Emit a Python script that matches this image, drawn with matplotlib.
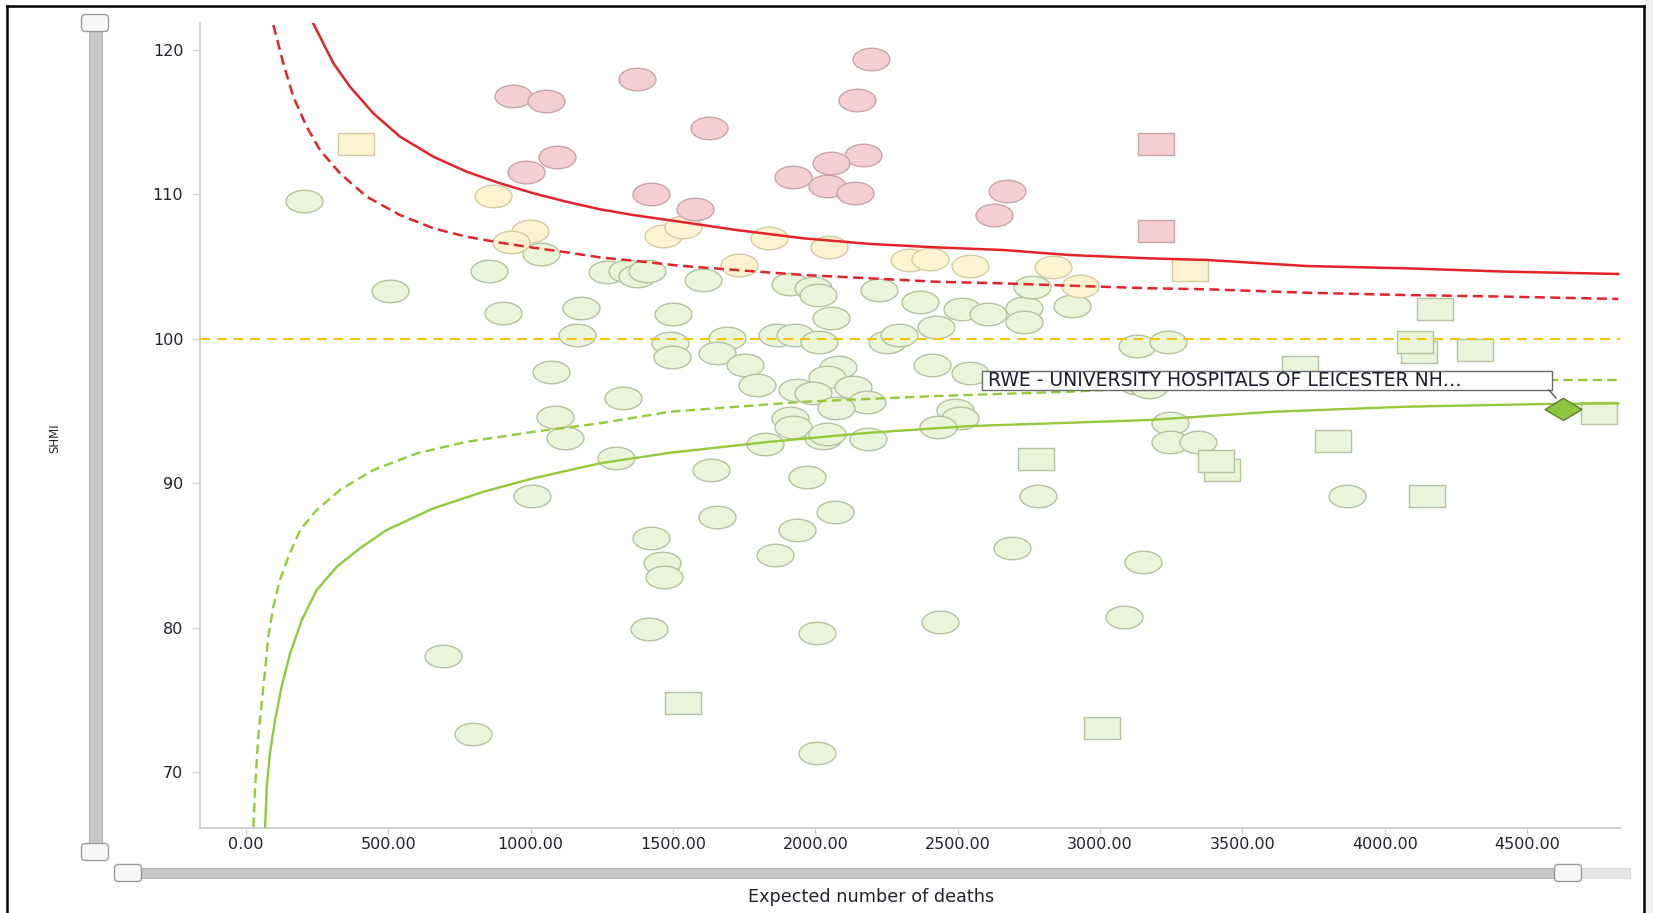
import numpy as np
import matplotlib.pyplot as plt
from matplotlib.path import Path
from matplotlib.patches import Rectangle, FancyBboxPatch

# SHMI funnel plot: expected deaths vs SHMI, one mark per trust

# trusts above the upper 99.8% limit
pink_circle_e = [939, 1053, 1374, 1094, 982, 1424, 2194, 2145, 1627, 2168, 2053,
                 1920, 2039, 2138, 2672, 2628, 1578]
pink_circle_s = [116.8, 116.45, 118.0, 112.6, 111.57, 110.05, 119.36, 116.54, 114.58,
                 112.7, 112.2, 111.18, 110.58, 110.07, 110.24, 108.6, 108.97]
pink_square_e = [3195, 3195]
pink_square_s = [113.5, 107.5]

# between the 95% and 99.8% upper limits
yellow_circle_e = [869, 998, 931, 1463, 1536, 1837, 2046, 1732, 2327, 2403, 2543, 2834, 2929]
yellow_circle_s = [109.9, 107.49, 106.73, 107.14, 107.76, 106.96, 106.38, 105.1, 105.46,
                   105.53, 105.04, 104.95, 103.66]
yellow_square_e = [386, 3316]
yellow_square_s = [113.47, 104.76]

# within limits
green_circle_e = [204, 1035, 855, 1267, 1339, 1372, 1407, 506, 904, 1178, 1501, 1163, 1489,
                  1496, 1072, 1324, 1087, 1606, 1910, 1993, 2010, 2223, 2368, 2516, 2607,
                  2734, 2733, 2762, 2902, 2055, 2424, 1688, 1864, 1928, 2013, 2250, 2295,
                  3128, 3238, 1653, 1753, 1796, 2081, 2040, 2131, 2408, 2543, 1936, 1993,
                  2180, 2074, 1911, 1920, 2490, 2508, 2432, 3128, 3172, 3246, 3246, 3345,
                  1823, 2028, 2040, 2186, 1633, 1969, 1653, 2069, 1934, 1858, 1122, 1298,
                  1003, 1423, 1462, 1468, 1417, 693, 798, 2783, 2692, 3152, 2438, 2004,
                  3084, 2004, 3868]
green_circle_s = [109.54, 105.9, 104.7, 104.6, 104.7, 104.37, 104.72, 103.31, 101.76, 102.1,
                  101.7, 100.24, 99.73, 98.76, 97.68, 95.88, 94.56, 104.07, 103.8, 103.5,
                  103.05, 103.38, 102.53, 102.04, 101.7, 102.11, 101.18, 103.6, 102.29,
                  101.42, 100.8, 100.03, 100.26, 100.26, 99.8, 99.8, 100.26, 99.5, 99.8,
                  99.0, 98.18, 96.8, 98.07, 97.38, 96.68, 98.19, 97.61, 96.44, 96.27,
                  95.64, 95.18, 94.49, 93.9, 95.07, 94.49, 93.9, 96.96, 96.66, 94.2, 92.87,
                  92.87, 92.71, 93.1, 93.4, 93.06, 90.91, 90.4, 87.68, 88.03, 86.76, 85.03,
                  93.1, 91.77, 89.11, 86.22, 84.5, 83.5, 79.88, 78.03, 72.63, 89.11, 85.53,
                  84.56, 80.41, 79.65, 80.76, 71.34, 89.11]
green_square_e = [2775, 1536, 3008, 4177, 4121, 4107, 4318, 3702, 4753, 3428, 3407, 3819, 4149]
green_square_s = [91.68, 74.76, 73.07, 102.04, 99.1, 99.8, 99.22, 98.07, 94.84, 90.91,
                  91.54, 92.94, 89.11]

# selected trust
sel_e = [4625]
sel_s = [95.12]
sel_name = "RWE - UNIVERSITY HOSPITALS OF LEICESTER NH\u2026"

# control limits
up998_e = [236, 307, 365, 447, 541, 658, 775, 892, 1009, 1126, 1243, 1360, 1524, 1724,
           1958, 2192, 2426, 2660, 2894, 3175, 3374, 3726, 4077, 4428, 4820]
up998_s = [121.85, 119.08, 117.46, 115.62, 114.0, 112.61, 111.57, 110.77, 110.08, 109.49,
           108.97, 108.57, 108.11, 107.53, 106.96, 106.57, 106.33, 106.15, 105.8, 105.57,
           105.46, 105.04, 104.88, 104.65, 104.49]
up95_e = [96, 131, 166, 213, 260, 330, 424, 541, 658, 775, 892, 1009, 1126, 1243, 1360,
          1524, 1724, 1958, 2192, 2426, 2660, 2894, 3175, 3374, 3726, 4077, 4428, 4820]
up95_s = [121.73, 119.08, 116.77, 114.69, 113.07, 111.46, 109.84, 108.57, 107.65, 107.07,
          106.66, 106.31, 105.99, 105.64, 105.41, 105.06, 104.76, 104.42, 104.19, 103.95,
          103.84, 103.68, 103.5, 103.43, 103.19, 103.03, 102.92, 102.76]
lo95_e = [26, 32, 43, 55, 67, 78, 96, 119, 149, 190, 248, 330, 447, 600, 775, 1009, 1243,
          1489, 1958, 2426, 2894, 3011, 4592, 4820]
lo95_s = [66.2, 68.98, 72.44, 74.76, 77.06, 79.37, 81.45, 83.3, 84.91, 86.76, 88.14, 89.53,
          90.91, 92.07, 92.87, 93.56, 94.15, 94.95, 95.64, 96.04, 96.34, 96.45, 97.15, 97.15]
lo998_e = [67, 73, 84, 102, 125, 155, 196, 248, 319, 400, 494, 658, 834, 1009, 1243, 1489,
           1840, 2192, 2543, 2894, 3175, 3608, 4077, 4545, 4820]
lo998_s = [66.2, 68.98, 71.29, 73.6, 75.91, 78.22, 80.53, 82.6, 84.22, 85.49, 86.76, 88.26,
           89.41, 90.34, 91.38, 92.11, 92.87, 93.5, 93.96, 94.19, 94.38, 94.95, 95.3, 95.48,
           95.53]

x_ticks = [0, 500, 1000, 1500, 2000, 2500, 3000, 3500, 4000, 4500]
y_ticks = [70, 80, 90, 100, 110, 120]

W, H = 1653, 913
fig = plt.figure(figsize=(W / 100, H / 100), dpi=100, facecolor='white')

# plot area in pixels
L, R, T, B = 200, 1620, 22.7, 827.5
ax = fig.add_axes([L / W, 1 - B / H, (R - L) / W, (B - T) / H])
ax.set_xlim(-161.6, 4826)
ax.set_ylim(66.16, 121.89)
ax.set_facecolor('none')

for side in ['top', 'right']:
    ax.spines[side].set_visible(False)
for side in ['left', 'bottom']:
    ax.spines[side].set_color('#cfcfcf')
    ax.spines[side].set_linewidth(1.3)

ax.set_xticks(x_ticks)
ax.set_xticklabels(['%.2f' % v for v in x_ticks])
ax.set_yticks(y_ticks)
ax.set_yticklabels([str(v) for v in y_ticks])
ax.tick_params(axis='y', direction='out', length=6, width=1, color='#cfcfcf',
               labelsize=11.5, labelcolor='#22222e', pad=6)
ax.tick_params(axis='x', direction='out', length=4, width=1, color='#cfcfcf',
               labelsize=11.5, labelcolor='#22222e', pad=3)

# marker shapes (wide ovals / boxes)
t = np.linspace(0, 2 * np.pi, 61)
oval = Path(np.column_stack([np.cos(t), 0.61 * np.sin(t)]), closed=True)
box = Path([(-1, -0.62), (1, -0.62), (1, 0.62), (-1, 0.62), (-1, -0.62)], closed=True)
diamond = Path([(-1, 0), (0, 0.6), (1, 0), (0, -0.6), (-1, 0)], closed=True)
msize = 26.6 ** 2

green_fc, green_ec = '#eaf4d8', '#b4c2a0'
yellow_fc, yellow_ec = '#fdf3d0', '#d3c9a1'
pink_fc, pink_ec = '#f4ced2', '#c7a4a8'

ax.scatter(green_circle_e, green_circle_s, marker=oval, s=msize, fc=green_fc, ec=green_ec,
           linewidths=1.0, zorder=2)
ax.scatter(yellow_circle_e, yellow_circle_s, marker=oval, s=msize, fc=yellow_fc,
           ec=yellow_ec, linewidths=1.0, zorder=2)
ax.scatter(pink_circle_e, pink_circle_s, marker=oval, s=msize, fc=pink_fc, ec=pink_ec,
           linewidths=1.0, zorder=2)
ax.scatter(green_square_e, green_square_s, marker=box, s=msize, fc=green_fc, ec=green_ec,
           linewidths=1.0, zorder=2)
ax.scatter(yellow_square_e, yellow_square_s, marker=box, s=msize, fc=yellow_fc,
           ec=yellow_ec, linewidths=1.0, zorder=2)
ax.scatter(pink_square_e, pink_square_s, marker=box, s=msize, fc=pink_fc, ec=pink_ec,
           linewidths=1.0, zorder=2)

# limits
ax.axhline(100, color='#f5c400', lw=1.5, dashes=(4.8, 3.2), zorder=3)
ax.plot(up998_e, up998_s, color='#e3222a', lw=1.8, zorder=3)
ax.plot(up95_e, up95_s, color='#e3222a', lw=1.8, dashes=(4, 2.2), zorder=3)
ax.plot(lo95_e, lo95_s, color='#93c93a', lw=1.7, dashes=(4, 2.2), zorder=3)
ax.plot(lo998_e, lo998_s, color='#93c93a', lw=1.7, zorder=3)

ax.scatter(sel_e, sel_s, marker=diamond, s=msize, fc='#8cc63f', ec='#5f7f2c',
           linewidths=1.0, zorder=4)

# overlay in pixel coordinates for frame, sliders and tooltip
ov = fig.add_axes([0, 0, 1, 1])
ov.set_xlim(0, W)
ov.set_ylim(H, 0)
ov.axis('off')
ov.patch.set_visible(False)

ov.add_patch(Rectangle((1645, 0), 8, H, fc='#efefef', ec='none'))
ov.plot([7, 7], [6, H], color='black', lw=1.8)
ov.plot([7, 1644], [6, 6], color='black', lw=1.8)
ov.plot([1644, 1644], [6, H], color='black', lw=1.8)


def handle(cx, cy, w=27, h=17):
    ov.add_patch(FancyBboxPatch((cx - w / 2, cy - h / 2), w, h,
                                boxstyle='round,pad=0,rounding_size=4',
                                fc='#f8f8f8', ec='#9a9a9a', lw=1.0, zorder=5))


# vertical slider
ov.add_patch(Rectangle((88.5, 23), 13, 829, fc='#c8c8c8', ec='#b4b4b4', lw=0.8, zorder=4))
handle(95, 23)
handle(95, 852)

# horizontal slider
ov.add_patch(Rectangle((127, 868), 1441, 10, fc='#c8c8c8', ec='#b8b8b8', lw=0.8, zorder=4))
ov.add_patch(Rectangle((1568, 868), 62, 10, fc='#e6e6e6', ec='#dcdcdc', lw=0.8, zorder=4))
handle(128, 873)
handle(1568, 873)

ov.text(871, 897, 'Expected number of deaths', ha='center', va='center', fontsize=12.7,
        color='#22222e')
ov.text(55, 438, 'SHMI', ha='center', va='center', rotation=90, fontsize=8.5,
        color='#22222e')

# tooltip for the selected trust
ov.add_patch(Rectangle((982, 371), 570, 19, fc='white', ec='#6a6a6a', lw=1.0, zorder=6))
ov.plot([1549, 1556], [390, 398], color='#555555', lw=1.0, zorder=6)
ov.text(988, 381, sel_name, ha='left', va='center', fontsize=13.5, color='#1c1c2c', zorder=7)

fig.savefig('out.png', dpi=100, facecolor='white')
